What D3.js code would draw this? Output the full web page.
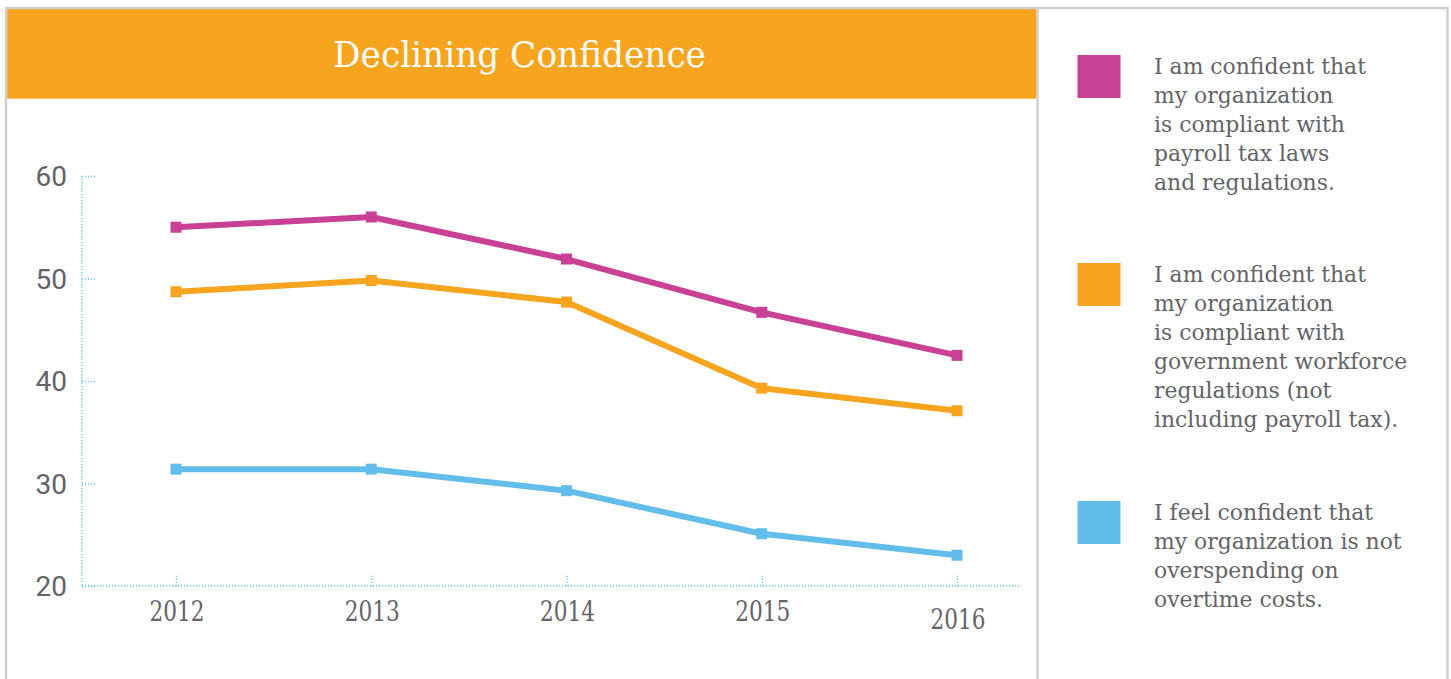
<!DOCTYPE html>
<html>
<head>
<meta charset="utf-8">
<script src="https://cdn.jsdelivr.net/npm/d3@7"></script>
<style>
  html, body { margin: 0; padding: 0; background: #ffffff; }
  svg { display: block; }
</style>
</head>
<body>
<svg id="chart" width="1451" height="679"></svg>
<script>
// ---- data ----
const title = "Declining Confidence";
const years = ["2012", "2013", "2014", "2015", "2016"];
const payrollTax = [55.0, 56.0, 51.9, 46.7, 42.5];
const workforceRegs = [48.7, 49.8, 47.7, 39.3, 37.1];
const overtimeCosts = [31.4, 31.4, 29.3, 25.1, 23.0];
const yTicks = [20, 30, 40, 50, 60];
const seriesNames = ["payroll", "workforce", "overtime"];
const seriesColors = ["#c94194", "#f7a41f", "#63bdea"];
const legendLines = [
  ["I am confident that", "my organization", "is compliant with", "payroll tax laws", "and regulations."],
  ["I am confident that", "my organization", "is compliant with", "government workforce", "regulations (not", "including payroll tax)."],
  ["I feel confident that", "my organization is not", "overspending on", "overtime costs."]
];
const seriesValues = [payrollTax, workforceRegs, overtimeCosts];

// ---- layout ----
const svg = d3.select("#chart");
const W = 1451, H = 679;
const textGray = "#636368";
const axisBlue = "#6cc4ee";
const plotLeft = 82, plotRight = 1019, plotTop = 176, plotBottom = 586;

// outer frame
svg.append("rect").attr("x", 6).attr("y", 8).attr("width", 1441.5).attr("height", 700)
  .attr("fill", "#fff").attr("stroke", "#cfcfcf").attr("stroke-width", 2.5);
// divider
svg.append("line").attr("x1", 1037.5).attr("x2", 1037.5).attr("y1", 8).attr("y2", H)
  .attr("stroke", "#cfcfcf").attr("stroke-width", 2.5);
// header
svg.append("rect").attr("x", 7.2).attr("y", 9.2).attr("width", 1029).attr("height", 89.5)
  .attr("fill", "#f7a41e");

function applyScale(sel, sx) {
  sel.each(function () {
    const t = d3.select(this);
    const x = +t.attr("x"), y = +t.attr("y");
    t.attr("x", 0).attr("y", 0).attr("transform", `translate(${x},${y}) scale(${sx},1)`);
  });
}
function fitX(sel, targetW) {
  sel.each(function () {
    applyScale(d3.select(this), targetW / this.getComputedTextLength());
  });
}

const titleText = svg.append("text").attr("x", 519.5).attr("y", 67)
  .attr("text-anchor", "middle").attr("fill", "#ffffff")
  .style("font-family", "'DejaVu Serif', serif").style("font-size", "36px")
  .text(title);
fitX(titleText, 373);

// scales
const x = d3.scalePoint().domain(years).range([176, 957]);
const y = d3.scaleLinear().domain([20, 60]).range([plotBottom, plotTop]);

// y axis (dotted)
const yAxis = d3.axisRight(y).tickValues(yTicks).tickSize(15).tickFormat("");
const gy = svg.append("g").attr("transform", `translate(${plotLeft},0)`).call(yAxis);
gy.selectAll("path, line").attr("stroke", axisBlue).attr("stroke-width", 1.4)
  .attr("stroke-dasharray", "1.2,1.8");
gy.select("path.domain").attr("d", `M0,${plotTop}V${plotBottom}`);

svg.selectAll("text.ylab").data(yTicks).enter().append("text")
  .attr("class", "ylab")
  .attr("x", 67).attr("y", d => y(d) + 10)
  .attr("text-anchor", "end").attr("fill", textGray)
  .style("font-family", "Roboto, sans-serif").style("font-weight", 400).style("font-size", "28px")
  .text(d => d);

// x axis (dotted)
svg.append("line").attr("x1", plotLeft).attr("x2", plotRight).attr("y1", plotBottom).attr("y2", plotBottom)
  .attr("stroke", axisBlue).attr("stroke-width", 1.4).attr("stroke-dasharray", "1.2,1.8");
const xAxis = d3.axisTop(x).tickSize(11).tickFormat("");
const gx = svg.append("g").attr("transform", `translate(0,${plotBottom})`).call(xAxis);
gx.select("path.domain").remove();
gx.selectAll("line").attr("stroke", axisBlue).attr("stroke-width", 1.4).attr("stroke-dasharray", "1.2,1.8");

const xl = svg.selectAll("text.xlab").data(years).enter().append("text")
  .attr("class", "xlab")
  .attr("x", d => x(d) + 1)
  .attr("y", (d, i) => i === years.length - 1 ? 629 : 621)
  .attr("text-anchor", "middle").attr("fill", textGray)
  .style("font-family", "'DejaVu Serif', serif").style("font-size", "27px")
  .text(d => d);
fitX(xl, 55);

// lines
const line = d3.line().x((d, i) => x(years[i])).y(d => y(d));
seriesValues.forEach((vals, si) => {
  svg.append("path").datum(vals).attr("d", line)
    .attr("fill", "none").attr("stroke", seriesColors[si]).attr("stroke-width", 6)
    .attr("stroke-linejoin", "round");
  svg.selectAll(`rect.m${si}`).data(vals).enter().append("rect")
    .attr("class", `m${si}`)
    .attr("x", (d, i) => x(years[i]) - 5.5).attr("y", d => y(d) - 5.5)
    .attr("width", 11).attr("height", 11).attr("fill", seriesColors[si]);
});

// legend
const legendTops = [55, 263, 501];
const legendBaselines = [74, 282, 520];
let legendScale = null;
seriesNames.forEach((name, si) => {
  svg.append("rect").attr("x", 1077.5).attr("y", legendTops[si]).attr("width", 43).attr("height", 43)
    .attr("fill", seriesColors[si]);
  const lt = svg.selectAll(`text.l${si}`).data(legendLines[si]).enter().append("text")
    .attr("class", `l${si}`)
    .attr("x", 1154).attr("y", (d, i) => legendBaselines[si] + i * 29)
    .attr("fill", textGray)
    .style("font-family", "'DejaVu Serif', serif").style("font-size", "22px")
    .text(d => d);
  if (legendScale === null) legendScale = 212 / lt.node().getComputedTextLength();
  applyScale(lt, legendScale);
});
</script>
</body>
</html>
